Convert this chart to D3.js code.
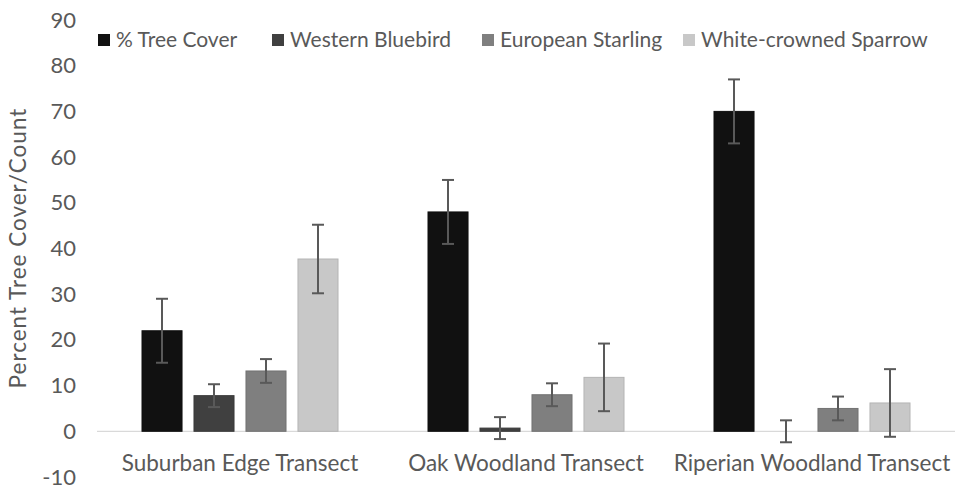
<!DOCTYPE html>
<html>
<head>
<meta charset="utf-8">
<script src="https://cdn.jsdelivr.net/npm/d3@7"></script>
<style>
  html, body { margin: 0; padding: 0; background: #fff; }
  svg { display: block; }
  text { font-family: Lato, "Open Sans", sans-serif; fill: #595959; }
</style>
</head>
<body>
<svg id="chart" width="967" height="489"></svg>
<script>
// Transects along the x axis
const categories = ["Suburban Edge Transect", "Oak Woodland Transect", "Riperian Woodland Transect"];
// Series names, in legend order
const seriesNames = ["% Tree Cover", "Western Bluebird", "European Starling", "White-crowned Sparrow"];
const seriesColors = ["#111111", "#404040", "#7f7f7f", "#c8c8c8"];
// Mean values per series, one per transect
const treeCover = [22, 48, 70];
const westernBluebird = [7.8, 0.7, 0];
const europeanStarling = [13.2, 8, 5];
const whiteCrownedSparrow = [37.7, 11.8, 6.2];
// Error bar half-widths per series
const treeCoverErr = [7, 7, 7];
const westernBluebirdErr = [2.5, 2.4, 2.4];
const europeanStarlingErr = [2.6, 2.5, 2.6];
const whiteCrownedSparrowErr = [7.5, 7.4, 7.4];
// Y axis ticks
const yTicks = [-10, 0, 10, 20, 30, 40, 50, 60, 70, 80, 90];

const values = [treeCover, westernBluebird, europeanStarling, whiteCrownedSparrow];
const errors = [treeCoverErr, westernBluebirdErr, europeanStarlingErr, whiteCrownedSparrowErr];

const FONT = "Lato, 'Open Sans', sans-serif";

const svg = d3.select("#chart");
const margin = { left: 97, right: 12 };
const width = 967;

const y = d3.scaleLinear().domain([-10, 90]).range([477, 20]);
const x0 = d3.scaleBand().domain(categories).range([margin.left, width - margin.right]);
const groupWidth = 196;
const x1 = d3.scaleBand().domain(seriesNames).range([0, groupWidth]).paddingInner(0.23);
const groupOffset = (x0.bandwidth() - groupWidth) / 2;

// Y axis tick labels (no axis line)
const yAxis = d3.axisLeft(y).tickValues(yTicks).tickFormat(d => String(d)).tickSize(0).tickPadding(0);
const yg = svg.append("g").attr("transform", `translate(76,0)`).call(yAxis);
yg.select(".domain").remove();
yg.selectAll("text").style("font-size", "22px").style("font-family", FONT).attr("fill", "#595959");

// Y axis title
svg.append("text")
  .attr("transform", `translate(26,248) rotate(-90)`)
  .attr("text-anchor", "middle")
  .style("font-size", "22.5px")
  .style("letter-spacing", "1px")
  .text("Percent Tree Cover/Count");

// Zero baseline
svg.append("line")
  .attr("x1", x0.range()[0]).attr("x2", x0.range()[1])
  .attr("y1", y(0)).attr("y2", y(0))
  .attr("stroke", "#d9d9d9").attr("stroke-width", 1.3);

// Bars
const rows = [];
categories.forEach((c, ci) => {
  seriesNames.forEach((s, si) => {
    rows.push({ cat: c, series: s, si, value: values[si][ci], err: errors[si][ci] });
  });
});

const bars = svg.append("g");
bars.selectAll("rect").data(rows).join("rect")
  .attr("x", d => x0(d.cat) + groupOffset + x1(d.series))
  .attr("width", x1.bandwidth())
  .attr("y", d => y(Math.max(0, d.value)))
  .attr("height", d => Math.abs(y(d.value) - y(0)))
  .attr("fill", d => seriesColors[d.si])
  .attr("stroke", d => d3.color(seriesColors[d.si]).darker(0.3))
  .attr("stroke-width", 1);

// Error bars
const eg = svg.append("g").attr("stroke", "#595959").attr("stroke-width", 2);
rows.forEach(d => {
  const cx = x0(d.cat) + groupOffset + x1(d.series) + x1.bandwidth() / 2;
  const yt = y(d.value + d.err), yb = y(d.value - d.err);
  eg.append("line").attr("x1", cx).attr("x2", cx).attr("y1", yt).attr("y2", yb);
  eg.append("line").attr("x1", cx - 6).attr("x2", cx + 6).attr("y1", yt).attr("y2", yt);
  eg.append("line").attr("x1", cx - 6).attr("x2", cx + 6).attr("y1", yb).attr("y2", yb);
});

// Category labels
const xAxis = d3.axisBottom(x0).tickSize(0).tickPadding(0);
const xg = svg.append("g").attr("transform", `translate(0,471)`).call(xAxis);
xg.select(".domain").remove();
xg.selectAll("text").style("font-size", "22.5px").style("font-family", FONT).attr("fill", "#595959").attr("y", 0).attr("dy", 0);

// Legend
const legendX = [98, 272, 482, 683];
const lg = svg.append("g");
seriesNames.forEach((s, i) => {
  const g = lg.append("g").attr("transform", `translate(${legendX[i]},40)`);
  g.append("rect").attr("x", 0).attr("y", -6).attr("width", 12).attr("height", 12).attr("fill", seriesColors[i]);
  g.append("text").attr("x", 18).attr("y", 0).attr("dy", "0.35em").style("font-size", "21px").text(s);
});
</script>
</body>
</html>
